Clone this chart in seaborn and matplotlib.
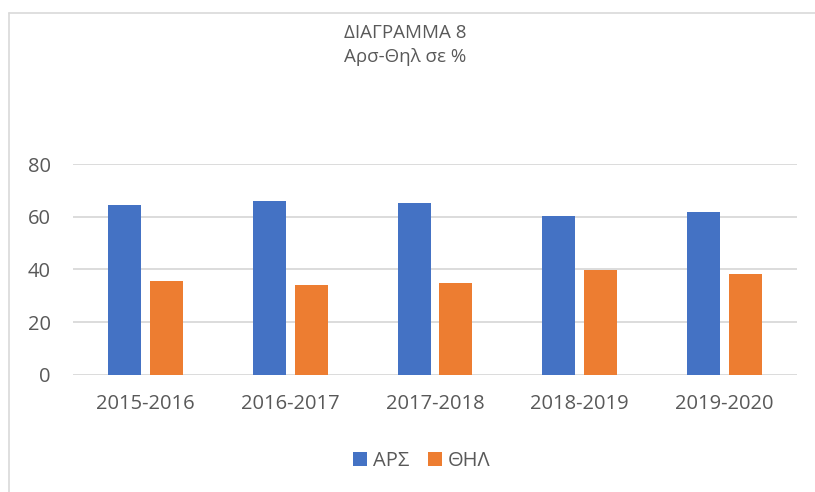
import matplotlib
matplotlib.use("Agg")
import matplotlib.pyplot as plt
import seaborn as sns
import pandas as pd
from matplotlib.lines import Line2D

years = ["2015-2016", "2016-2017", "2017-2018", "2018-2019", "2019-2020"]
ars = [64.4, 65.9, 65.2, 60.4, 61.7]
thil = [35.6, 34.1, 34.8, 39.6, 38.3]
series = ["ΑΡΣ", "ΘΗΛ"]
yticks = [0, 20, 40, 60, 80]

df = pd.DataFrame({
    "year": years * 2,
    "value": ars + thil,
    "series": [series[0]] * len(years) + [series[1]] * len(years),
})

sns.set_theme(style="white")
plt.rcParams["font.family"] = ["Open Sans", "DejaVu Sans"]

W, H = 815, 492
fig = plt.figure(figsize=(W / 100, H / 100), dpi=100)
ax = fig.add_axes([73 / W, 1 - 374.7 / H, (797 - 73) / W, (374.7 - 164) / H])

palette = {"ΑΡΣ": "#4472C4", "ΘΗΛ": "#ED7D31"}
sns.barplot(data=df, x="year", y="value", hue="series", palette=palette,
            width=0.576, gap=0.21, ax=ax, saturation=1, legend=True,
            edgecolor="none", linewidth=0)

ax.set_ylim(0, 80)
ax.set_yticks(yticks)
ax.set_xlim(-0.5, len(years) - 0.5)
ax.yaxis.grid(True, color="#D9D9D9", linewidth=1.3)
ax.set_axisbelow(True)
for s in ax.spines.values():
    s.set_visible(False)
ax.set_xlabel("")
ax.set_ylabel("")
ax.tick_params(axis="both", length=0, labelsize=14.5, colors="#595959")
ax.tick_params(axis="y", pad=16)
ax.tick_params(axis="x", pad=14)

leg = ax.legend(loc="center", bbox_to_anchor=(422 / W, 1 - 461 / H),
                bbox_transform=fig.transFigure, ncol=2, frameon=False,
                fontsize=14.5, handlelength=0.7, handleheight=0.7,
                columnspacing=0.9, handletextpad=0.3, labelcolor="#595959")

fig.text(405 / W, 1 - 33 / H, "ΔΙΑΓΡΑΜΜΑ 8", ha="center", va="center",
         fontsize=13.5, color="#595959")
fig.text(405 / W, 1 - 57 / H, "Αρσ-Θηλ σε %", ha="center", va="center",
         fontsize=13.5, color="#595959")

fig.add_artist(Line2D([8.5 / W, 8.5 / W], [0, 1 - 13 / H], transform=fig.transFigure,
                      color="#D9D9D9", linewidth=1.2))
fig.add_artist(Line2D([8.5 / W, 1], [1 - 13 / H, 1 - 13 / H], transform=fig.transFigure,
                      color="#D9D9D9", linewidth=1.2))

fig.savefig("out.png", dpi=100)
